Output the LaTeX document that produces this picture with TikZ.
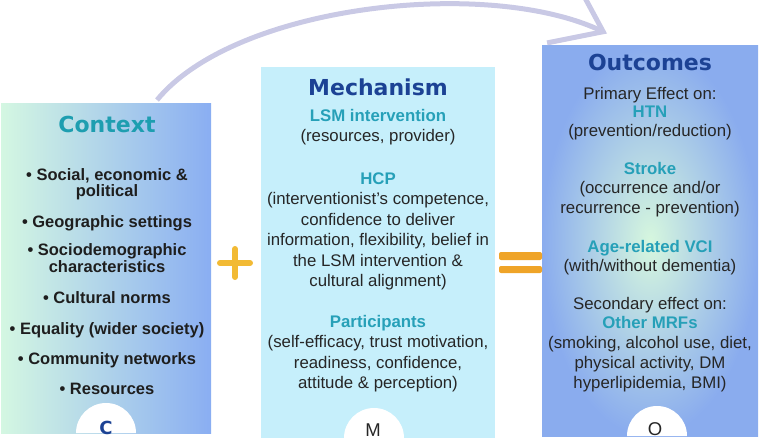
\documentclass[tikz,border=0pt]{standalone}
\usepackage{fontspec}
\setmainfont{Liberation Sans}
\newfontfamily\headfont{DejaVu Sans}
\usepackage{xcolor}
\usepackage{tikz}
\usetikzlibrary{arrows.meta,positioning,calc}

\definecolor{ctxleft}{RGB}{212,247,226}
\definecolor{ctxright}{RGB}{138,174,242}
\definecolor{mechfill}{RGB}{198,239,251}
\definecolor{outinner}{RGB}{214,247,222}
\definecolor{outouter}{RGB}{138,172,238}
\definecolor{titleblue}{RGB}{28,66,148}
\definecolor{titleteal}{RGB}{30,158,176}
\definecolor{subteal}{RGB}{38,160,184}
\definecolor{bodygray}{RGB}{38,38,38}
\definecolor{plusgold}{RGB}{242,186,52}
\definecolor{eqorange}{RGB}{239,164,40}
\definecolor{arclav}{RGB}{201,201,229}

\newcommand{\hd}[1]{\textcolor{subteal}{\textbf{#1}}}

\begin{document}
\begin{tikzpicture}[x=1pt, y=-1pt,
    box/.style={inner sep=0pt, outer sep=0pt},
    ttl/.style={font=\headfont\bfseries\fontsize{22}{26}\selectfont, text=titleblue, anchor=base},
    bul/.style={font=\bfseries\fontsize{16.5}{14}\selectfont, text=bodygray!80!black, align=center, anchor=base},
    txt/.style={font=\fontsize{16.8}{20.5}\selectfont, text=bodygray, align=center, anchor=base},
    tab/.style={font=\fontsize{18.5}{20}\selectfont, text=bodygray, anchor=base}]
    \useasboundingbox (0,0) rectangle (765,445);

    % The three boxes
    \node[box, minimum width=210pt, minimum height=330pt, left color=ctxleft, right color=ctxright] (ctx) at (106,268) {};
    \node[box, minimum width=234pt, minimum height=371pt, fill=mechfill] (mech) at (378,252.5) {};
    \node[box, minimum width=216pt, minimum height=391pt, inner color=outinner, outer color=outouter] (outc) at (650,241) {};

    % White tabs at the bottom
    \foreach \cx/\cy in {106/433, 374/438, 657/436}
        \fill[white] (\cx-30,\cy) arc (180:360:30);
    \node[tab, font=\headfont\bfseries\fontsize{18}{20}\selectfont, text=titleblue] (lc) at (106,434) {C};
    \node[tab] (lm) at (373,436) {M};
    \node[tab] (lo) at (655,435) {O};

    % Titles
    \node[ttl, text=titleteal] (tctx) at (107,132) {Context};
    \node[ttl] (tmech) at (378,95) {Mechanism};
    \node[ttl] (tout) at (650,70) {Outcomes};

    % Context items (y = baseline of last line)
    \foreach \i/\y/\lbl in {1/196/{• Social, economic \&\\political},
                            2/227/{• Geographic settings},
                            3/272/{• Sociodemographic\\characteristics},
                            4/303/{• Cultural norms},
                            5/334/{• Equality (wider society)},
                            6/364/{• Community networks},
                            7/394/{• Resources}}
        \node[bul] (c\i) at (107,\y) {\lbl};

    % Mechanism text
    \node[txt] (lsm) at (378,141.5) {\hd{LSM intervention}\\(resources, provider)};
    \node[txt] (hcp) at (378,286.5) {\hd{HCP}\\(interventionist’s competence,\\confidence to deliver\\information, flexibility, belief in\\the LSM intervention \&\\cultural alignment)};
    \node[txt] (part) at (378,388.5) {\hd{Participants}\\(self-efficacy, trust motivation,\\readiness, confidence,\\attitude \& perception)};

    % Outcomes text
    \node[txt, font=\fontsize{16.8}{18.7}\selectfont] (prim) at (650,136.4) {Primary Effect on:\\\hd{HTN}\\(prevention/reduction)};
    \node[txt, font=\fontsize{16.8}{19.5}\selectfont] (strk) at (650,213) {\hd{Stroke}\\(occurrence and/or\\recurrence - prevention)};
    \node[txt, font=\fontsize{16.8}{19}\selectfont] (vci) at (650,271) {\hd{Age-related VCI}\\(with/without dementia)};
    \node[txt, font=\fontsize{16.8}{19.8}\selectfont] (sec) at (650,388.2) {Secondary effect on:\\\hd{Other MRFs}\\(smoking, alcohol use, diet,\\physical activity, DM\\hyperlipidemia, BMI)};

    % Plus and equals signs
    \draw[plusgold, line width=6pt, line cap=round] (220,263) -- (250,263) (235,249) -- (235,277);
    \fill[eqorange, rounded corners=2pt] (499,252) rectangle (542,260);
    \fill[eqorange, rounded corners=2pt] (499,266) rectangle (542,273);

    % Curved arrow from context to outcomes
    \coordinate (arcstart) at ($(ctx.north)+(51,-3)$);
    \coordinate (arcend) at ($(outc.north)+(-43,-12)$);
    \draw[arclav, line width=5pt, -{Straight Barb[length=46pt, width=68pt]}]
        (arcstart) .. controls (235,5) and (487,-23) .. (arcend);
\end{tikzpicture}
\end{document}
